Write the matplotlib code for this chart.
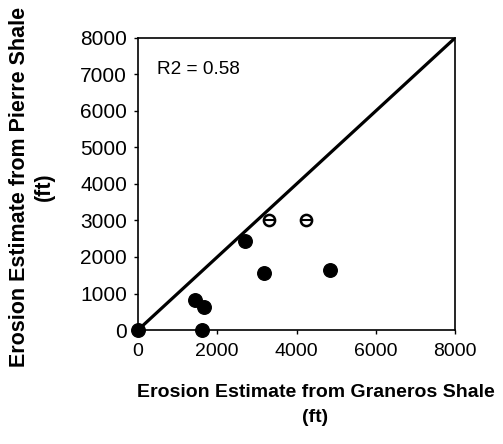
import matplotlib
matplotlib.use("Agg")
import matplotlib.pyplot as plt

plt.rcParams['font.family'] = ['Liberation Sans', 'DejaVu Sans']

# data
graneros = [0, 1450, 1670, 1620, 2700, 3180, 4850]
pierre = [0, 820, 620, 0, 2450, 1550, 1650]
graneros_open = [3300, 4250]
pierre_open = [3000, 3000]
line_x = [0, 8000]
line_y = [0, 8000]
ticks = [0, 2000, 4000, 6000, 8000]
yticks = [0, 1000, 2000, 3000, 4000, 5000, 6000, 7000, 8000]

fig = plt.figure(figsize=(5.03, 4.44), dpi=100)
ax = fig.add_axes([138/503, 1 - 330/444, 317/503, 292/444])

ax.plot(line_x, line_y, color='black', lw=2.3, zorder=2)
ax.scatter(graneros, pierre, s=95, color='black', zorder=3, clip_on=False)
ax.scatter(graneros_open, pierre_open, s=65, facecolor='white', edgecolor='black',
           lw=1.8, zorder=3)
ax.scatter(graneros_open, pierre_open, s=65, marker='_', color='black', lw=1.5, zorder=4)

ax.text(470, 7130, 'R2 = 0.58', fontsize=13.7, va='center', ha='left')

ax.set_xlim(0, 8000)
ax.set_ylim(0, 8000)
ax.set_xticks(ticks)
ax.set_yticks(yticks)
ax.tick_params(direction='out', length=3, width=1, pad=5)
ax.tick_params(axis='x', labelsize=14, pad=6)
ax.tick_params(axis='y', labelsize=15)
for s in ax.spines.values():
    s.set_linewidth(1.2)

ax.set_xlabel('Erosion Estimate from Graneros Shale\n(ft)', fontsize=14,
              fontweight='bold', linespacing=1.6)
ax.xaxis.set_label_coords(0.56, -0.185, transform=ax.transAxes)
ax.xaxis.label.set_va('top')
ax.set_ylabel('Erosion Estimate from Pierre Shale\n(ft)', fontsize=15.5,
              fontweight='bold', linespacing=1.25)
ax.yaxis.set_label_coords(-0.262, 0.49, transform=ax.transAxes)

fig.savefig('out.png', dpi=100)
